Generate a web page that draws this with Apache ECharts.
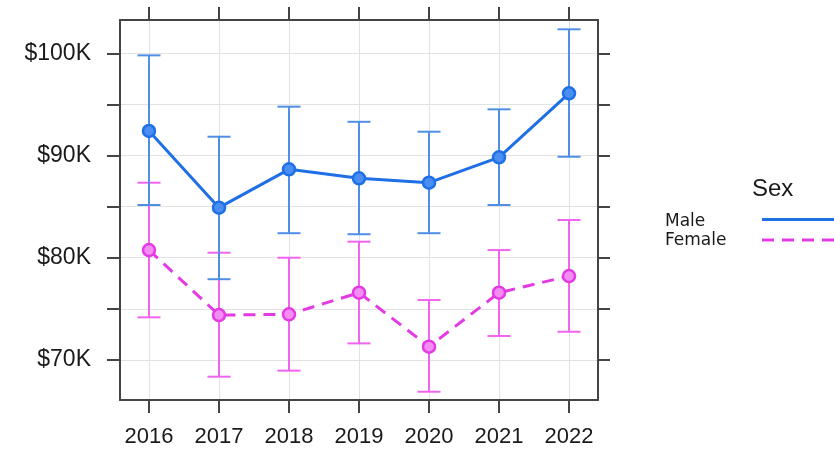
<!DOCTYPE html>
<html>
<head>
<meta charset="utf-8">
<script src="https://cdn.jsdelivr.net/npm/echarts@6/dist/echarts.min.js"></script>
<style>
  html, body { margin: 0; padding: 0; background: #fff; }
  #chart { width: 834px; height: 454px; }
</style>
</head>
<body>
<div id="chart"></div>
<script>
// Mean salary (in $K) by year and sex, with interval bounds
const years = [2016, 2017, 2018, 2019, 2020, 2021, 2022];
const maleMean = [92.4, 84.9, 88.65, 87.77, 87.34, 89.82, 96.09];
const maleLow = [85.16, 77.9, 82.4, 82.3, 82.4, 85.16, 89.88];
const maleHigh = [99.8, 91.84, 94.78, 93.3, 92.33, 94.52, 102.35];
const femaleMean = [80.75, 74.39, 74.46, 76.58, 71.3, 76.58, 78.21];
const femaleLow = [74.17, 68.36, 68.95, 71.62, 66.89, 72.34, 72.76];
const femaleHigh = [87.34, 80.49, 80.0, 81.57, 75.86, 80.75, 83.69];
const yTicks = [70, 75, 80, 85, 90, 95, 100];
const yLabels = [70, 80, 90, 100];
const seriesNames = ['Male', 'Female'];

const MALE = '#1f6fe6';
const MALE_BAR = '#4f8fe8';
const FEMALE = '#e43ae4';
const FEMALE_BAR = '#f064f0';
const FRAME = '#444444';
const GRIDC = '#e2e2e2';
const TEXT = '#1a1a1a';
const FONT = 'Liberation Sans, Arial, sans-serif';

function errorBars(low, high, color) {
  return {
    type: 'custom',
    silent: true,
    data: years.map((y, i) => [y, low[i], high[i]]),
    renderItem: function (params, api) {
      const x = api.coord([api.value(0), api.value(1)])[0];
      const yLo = api.coord([api.value(0), api.value(1)])[1];
      const yHi = api.coord([api.value(0), api.value(2)])[1];
      const hw = 11.5;
      const style = { stroke: color, lineWidth: 2 };
      return {
        type: 'group',
        children: [
          { type: 'line', shape: { x1: x, y1: yLo, x2: x, y2: yHi }, style: style },
          { type: 'line', shape: { x1: x - hw, y1: yLo, x2: x + hw, y2: yLo }, style: style },
          { type: 'line', shape: { x1: x - hw, y1: yHi, x2: x + hw, y2: yHi }, style: style }
        ]
      };
    },
    z: 2
  };
}

const xMin = 2015.586, xMax = 2022.414;
const yMin = 66.08, yMax = 103.26;

const axisLineStyle = { show: true, lineStyle: { color: FRAME, width: 2 } };
const tickStyle = { lineStyle: { color: FRAME, width: 2 } };

const option = {
  animation: false,
  backgroundColor: '#ffffff',
  grid: { left: 120, right: 236, top: 20, bottom: 54 },
  xAxis: [
    {
      type: 'value', position: 'bottom', min: xMin, max: xMax,
      axisLine: axisLineStyle,
      axisTick: Object.assign({ show: true, length: 13, customValues: years }, tickStyle),
      axisLabel: { show: true, customValues: years, margin: 26, fontSize: 22, color: TEXT, fontFamily: FONT, formatter: v => String(v) },
      splitLine: { show: true, lineStyle: { color: GRIDC, width: 1 } }
    },
    {
      type: 'value', position: 'top', min: xMin, max: xMax,
      axisLine: axisLineStyle,
      axisTick: Object.assign({ show: true, length: 13, customValues: years }, tickStyle),
      axisLabel: { show: false },
      splitLine: { show: false }
    }
  ],
  yAxis: [
    {
      type: 'value', position: 'left', min: yMin, max: yMax,
      axisLine: axisLineStyle,
      axisTick: Object.assign({ show: true, length: 13, customValues: yTicks }, tickStyle),
      axisLabel: { show: true, customValues: yLabels, margin: 29, fontSize: 23, color: TEXT, fontFamily: FONT, formatter: v => '$' + v + 'K' },
      splitLine: { show: true, lineStyle: { color: GRIDC, width: 1 } }
    },
    {
      type: 'value', position: 'right', min: yMin, max: yMax,
      axisLine: axisLineStyle,
      axisTick: Object.assign({ show: true, length: 12, customValues: yTicks }, tickStyle),
      axisLabel: { show: false },
      splitLine: { show: false }
    }
  ],
  series: [
    errorBars(femaleLow, femaleHigh, FEMALE_BAR),
    errorBars(maleLow, maleHigh, MALE_BAR),
    {
      name: seriesNames[0], type: 'line',
      data: years.map((y, i) => [y, maleMean[i]]),
      symbol: 'circle', symbolSize: 12,
      itemStyle: { color: '#4a8ef2', borderColor: MALE, borderWidth: 2.5 },
      lineStyle: { color: MALE, width: 3 },
      z: 4
    },
    {
      name: seriesNames[1], type: 'line',
      data: years.map((y, i) => [y, femaleMean[i]]),
      symbol: 'circle', symbolSize: 12,
      itemStyle: { color: '#f38cf3', borderColor: FEMALE, borderWidth: 2.5 },
      lineStyle: { color: FEMALE, width: 3, type: [12, 8] },
      z: 3
    }
  ],
  graphic: [
    { type: 'text', left: 752, top: 177, style: { text: 'Sex', fontSize: 24, fill: TEXT, fontFamily: FONT } },
    { type: 'text', left: 665, top: 213, style: { text: seriesNames[0], fontSize: 17, fill: TEXT, fontFamily: 'DejaVu Sans, sans-serif' } },
    { type: 'text', left: 665, top: 232, style: { text: seriesNames[1], fontSize: 17, fill: TEXT, fontFamily: 'DejaVu Sans, sans-serif' } },
    { type: 'line', shape: { x1: 762, y1: 219.5, x2: 840, y2: 219.5 }, style: { stroke: MALE, lineWidth: 3 } },
    { type: 'line', shape: { x1: 762, y1: 240, x2: 840, y2: 240 }, style: { stroke: FEMALE, lineWidth: 3, lineDash: [12, 8] } }
  ]
};

const chart = echarts.init(document.getElementById('chart'), null, { renderer: 'canvas' });
chart.setOption(option);
</script>
</body>
</html>
